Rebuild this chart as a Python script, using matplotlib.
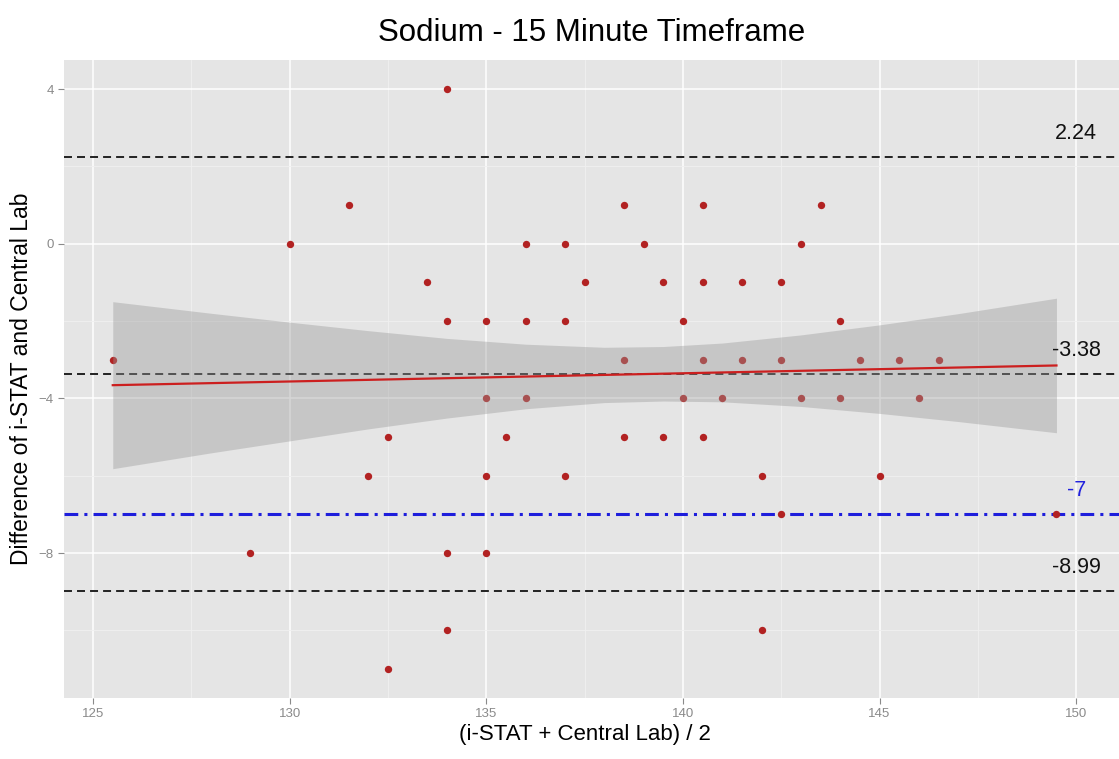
import numpy as np
import matplotlib
matplotlib.use("Agg")
import matplotlib.pyplot as plt

plt.rcParams['font.family'] = ['Liberation Sans', 'DejaVu Sans']

# ---- data ----
mean_x = [125.5, 129, 130, 131.5, 132, 132.5, 132.5, 133.5, 134, 134, 134, 134,
          135, 135, 135, 135, 135.5, 136, 136, 136, 137, 137, 137, 137.5,
          138.5, 138.5, 138.5, 139, 139.5, 139.5, 140, 140, 140.5, 140.5, 140.5, 140.5,
          141, 141.5, 141.5, 142, 142, 142.5, 142.5, 142.5, 143, 143, 143.5,
          144, 144, 144.5, 145, 145.5, 146, 146.5, 149.5]
diff_y = [-3, -8, 0, 1, -6, -5, -11, -1, 4, -2, -8, -10,
          -2, -4, -6, -8, -5, 0, -2, -4, 0, -2, -6, -1,
          1, -3, -5, 0, -1, -5, -2, -4, 1, -1, -3, -5,
          -4, -1, -3, -6, -10, -1, -3, -7, 0, -4, 1,
          -2, -4, -3, -6, -3, -4, -3, -7]

# fitted line (lm) and its 95% confidence band
fit_x = [125.5, 149.5]
fit_y = [-3.66, -3.15]
band_x = [125.5, 128, 130, 132, 134, 136, 138, 139.5, 141, 143, 145, 147, 149.5]
band_hi = [-1.50, -1.80, -2.03, -2.25, -2.45, -2.60, -2.68, -2.66, -2.57, -2.36, -2.10, -1.81, -1.41]
band_lo = [-5.82, -5.41, -5.10, -4.79, -4.51, -4.27, -4.11, -4.07, -4.09, -4.21, -4.39, -4.60, -4.89]

limit_vals = [2.24, -3.38, -8.99]   # upper LoA, mean bias, lower LoA
limit_labels = ['2.24', '-3.38', '-8.99']
threshold = -7
threshold_label = '-7'

x_ticks = [125, 130, 135, 140, 145, 150]
y_ticks = [4, 0, -4, -8]

# ---- plot ----
fig = plt.figure(figsize=(11.19, 7.59), dpi=100)
ax = fig.add_axes([64 / 1119, 1 - 698 / 759, 1055 / 1119, 638 / 759])
ax.set_facecolor('#E5E5E5')
for sp in ax.spines.values():
    sp.set_visible(False)

ax.set_xlim(124.26, 151.09)
ax.set_ylim(-11.75, 4.75)

ax.set_xticks(x_ticks)
ax.set_yticks(y_ticks)
ax.set_xticks(np.arange(127.5, 151, 5), minor=True)
ax.set_yticks([2, -2, -6, -10], minor=True)
ax.grid(which='major', color='white', lw=1.1, zorder=0)
ax.grid(which='minor', color='#F0F0F0', lw=0.6, zorder=0)
ax.set_axisbelow(True)
ax.tick_params(which='major', length=4, width=0.8, color='#8A8A8A',
               labelcolor='#8A8A8A', labelsize=9.5)
ax.tick_params(axis='x', pad=3.5)
ax.tick_params(axis='y', pad=3.5)
ax.tick_params(which='minor', length=0)

# limits of agreement and mean bias
for v in limit_vals:
    ax.axhline(v, color='#222222', lw=1.4, dashes=(4.1, 2.6), zorder=1.5)
ax.axhline(threshold, color='#1E1EDC', lw=2.2, dashes=(4.5, 2, 1, 2), zorder=1.5)

ax.plot(mean_x, diff_y, 'o', color='#B22222', ms=5.3, mec='none', zorder=2)
ax.fill_between(band_x, band_lo, band_hi, color='#999999', alpha=0.4, lw=0, zorder=3)
ax.plot(fit_x, fit_y, color='#CC1F1F', lw=1.6, zorder=4)

for v, lab in zip(limit_vals, limit_labels):
    ax.text(150, v + 0.62, lab, ha='center', va='center', fontsize=15.5, color='#111111')
ax.text(150, threshold + 0.62, threshold_label, ha='center', va='center',
        fontsize=15.5, color='#2222DD')

ax.set_title('Sodium - 15 Minute Timeframe', fontsize=22.5, pad=14)
ax.set_xlabel('(i-STAT + Central Lab) / 2', fontsize=16, va='baseline')
ax.xaxis.set_label_coords(0.494, (698 - 740) / 638)
ax.set_ylabel('Difference of i-STAT and Central Lab', fontsize=16.5, va='center')
ax.yaxis.set_label_coords((22 - 64) / 1055, 0.5)

fig.savefig('out.png', dpi=100)
